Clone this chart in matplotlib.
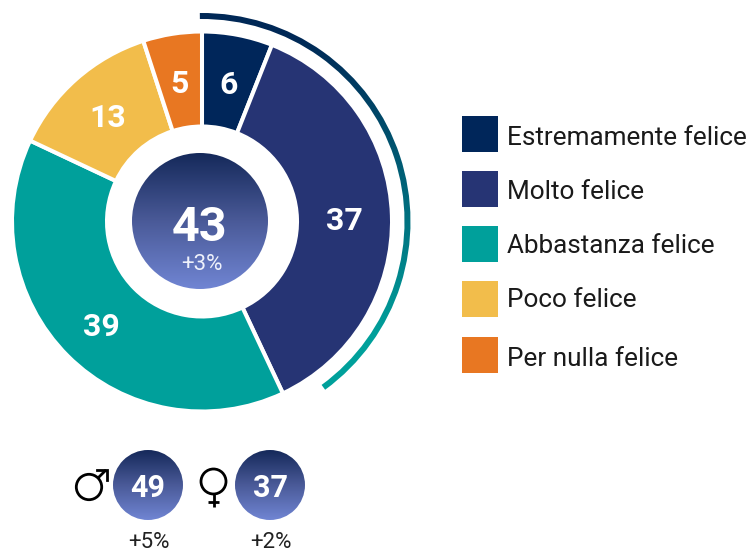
import numpy as np
import matplotlib
matplotlib.use("Agg")
import matplotlib.pyplot as plt
from matplotlib.patches import Circle, Wedge, Rectangle
from matplotlib.colors import LinearSegmentedColormap

plt.rcParams['font.family'] = ['Roboto', 'DejaVu Sans']

# dati
categorie = ['Estremamente felice', 'Molto felice', 'Abbastanza felice', 'Poco felice', 'Per nulla felice']
valori = [6, 37, 39, 13, 5]
colori = ['#00265a', '#263474', '#00a09b', '#f2bd4b', '#e87722']
totale_felici = 43
delta_totale = '+3%'
valore_uomini = 49
delta_uomini = '+5%'
valore_donne = 37
delta_donne = '+2%'

H = 553
fig = plt.figure(figsize=(7.52, 5.53), dpi=100)
ax = fig.add_axes([0, 0, 1, 1])


def Y(py):
    # coordinate in pixel dall'alto
    return H - py


cmap_blu = LinearSegmentedColormap.from_list('blu', ['#15295a', '#4a5a98', '#7085d3'])
cmap_arco = LinearSegmentedColormap.from_list('arco', [(0, '#002856'), (0.08, '#002856'), (0.85, '#00a09b'), (1, '#00a09b')])
grad = np.linspace(0, 1, 256).reshape(-1, 1)

# ciambella
cx, cy = 202, Y(221.5)
ax.pie(valori, colors=colori, startangle=90, counterclock=False, center=(cx, cy), radius=190,
       wedgeprops=dict(width=95, edgecolor='white', linewidth=2.9))

# etichette sulle fette
cum = np.cumsum([0] + valori)
for v, a, b in zip(valori, cum[:-1], cum[1:]):
    ang = np.deg2rad((a + b) / 2 * 3.6)
    ax.text(cx + 143 * np.sin(ang), cy + 143 * np.cos(ang) - 4, str(v), color='white',
            fontsize=23, fontweight='bold', ha='center', va='center')

# arco esterno con sfumatura
arco = Wedge((cx, cy), 208.5, 90 - (valori[0] + valori[1]) * 3.6 + 11, 90.6, width=6,
             transform=ax.transData, facecolor='none', edgecolor='none')
ax.add_patch(arco)
im = ax.imshow(grad, cmap=cmap_arco, extent=(190, 420, Y(395), Y(5)), aspect='auto', zorder=3)
im.set_clip_path(arco)


def cerchio(x, py, r):
    c = Circle((x, Y(py)), r, facecolor='none', edgecolor='none')
    ax.add_patch(c)
    img = ax.imshow(grad, cmap=cmap_blu, extent=(x - r, x + r, Y(py + r), Y(py - r)), aspect='auto', zorder=3)
    img.set_clip_path(c)


# cerchio centrale
cerchio(200, 221, 68)
ax.text(200, Y(228), str(totale_felici), color='white', fontsize=35, fontweight='bold',
        ha='center', va='center', zorder=5)
ax.text(202, Y(265), delta_totale, color='#eef1fb', fontsize=16, ha='center', va='center', zorder=5)

# uomini / donne
cerchio(148, 485, 35)
cerchio(270, 485, 35)
ax.text(148, Y(488), str(valore_uomini), color='white', fontsize=22, fontweight='bold',
        ha='center', va='center', zorder=5)
ax.text(270, Y(488), str(valore_donne), color='white', fontsize=22, fontweight='bold',
        ha='center', va='center', zorder=5)
ax.text(149, Y(548), delta_uomini, color='#222222', fontsize=16, ha='center', va='baseline')
ax.text(270.5, Y(548), delta_donne, color='#222222', fontsize=16, ha='center', va='baseline')

# simbolo maschile
ax.add_patch(Circle((89, Y(487)), 12.7, facecolor='none', edgecolor='black', linewidth=2))
ax.plot([98, 106], [Y(478), Y(470)], color='black', lw=2, solid_capstyle='butt')
ax.plot([97, 106.5, 106.5], [Y(470), Y(470), Y(480)], color='black', lw=2, solid_joinstyle='miter')

# simbolo femminile
ax.add_patch(Circle((213.5, Y(481.5)), 12.5, facecolor='none', edgecolor='black', linewidth=2))
ax.plot([213.5, 213.5], [Y(494), Y(507)], color='black', lw=2, solid_capstyle='butt')
ax.plot([208, 219], [Y(502), Y(502)], color='black', lw=2, solid_capstyle='butt')

# legenda
quadrati = [134, 189, 244, 299, 355]
testi = [138, 192, 246, 300, 359]
for nome, col, py, ty in zip(categorie, colori, quadrati, testi):
    ax.add_patch(Rectangle((462, Y(py + 18)), 36, 36, facecolor=col, edgecolor='none'))
    ax.text(507, Y(ty), nome, color='#1a1a1a', fontsize=18.8, ha='left', va='center')

ax.set_xlim(0, 752)
ax.set_ylim(0, 553)
ax.set_aspect('auto')
ax.axis('off')

plt.savefig('out.png', dpi=100)
